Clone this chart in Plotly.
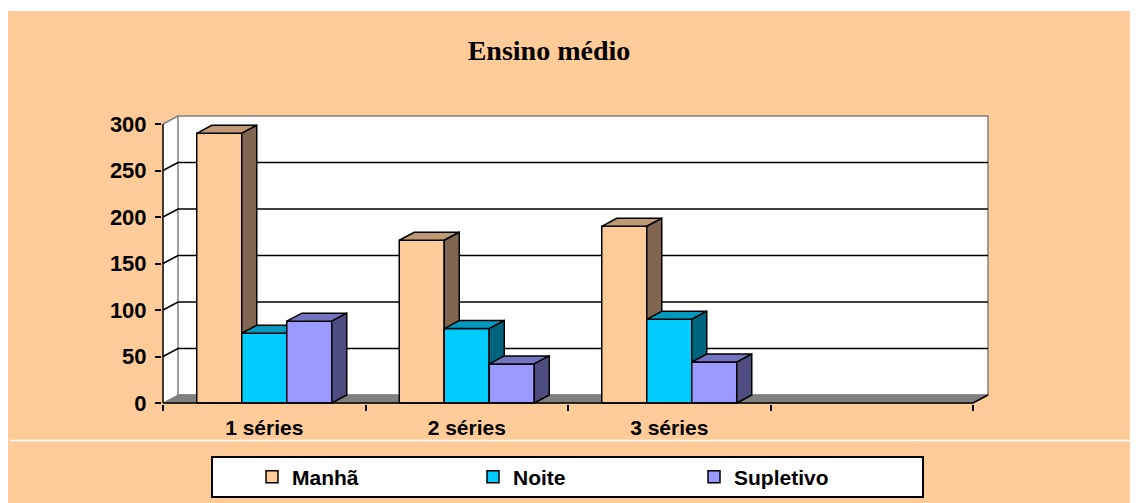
import plotly.graph_objects as go

# ---- data ----
categories = ["1 séries", "2 séries", "3 séries"]
series_names = ["Manhã", "Noite", "Supletivo"]
manha = [290, 175, 190]
noite = [75, 80, 90]
supletivo = [88, 42, 44]
y_ticks = [0, 50, 100, 150, 200, 250, 300]

# ---- style ----
front_colors = ["#FFCC99", "#00CCFF", "#9999FF"]
top_colors = ["#BF9973", "#0099BF", "#7373BF"]
side_colors = ["#806650", "#006680", "#4D4D80"]
PEACH = "#FFCC99"
GRAY = "#808080"

OFF = 8                                   # page body margin of the html page
W, H = 1138, 503
L, R, T, B = 162 - OFF, 989 - OFF, 115 - OFF, 404 - OFF   # plot area in figure pixels
N_SLOTS = 4                               # 3 categories + one empty slot
PXX = (973 - 163) / N_SLOTS              # pixels per category unit
PXY = (403 - 125) / 300                  # pixels per value unit
DX = 15 / PXX                             # depth offset (x units)
DY = 8 / PXY                              # depth offset (y units)
BW = 45 / PXX                             # bar width
YMAX = y_ticks[-1]

x_lo, x_hi = -0.5, N_SLOTS - 0.5
xr = [x_lo - 1 / PXX, x_hi + DX + 1 / PXX]
yr = [-1 / PXY, YMAX + DY + 1 / PXY]

fig = go.Figure()


def poly(xs, ys, fill, line_color="black", lw=1.5):
    fig.add_trace(go.Scatter(
        x=xs + [xs[0]], y=ys + [ys[0]], mode="lines", fill="toself",
        fillcolor=fill, line=dict(color=line_color, width=lw),
        hoverinfo="skip", showlegend=False))


def lines(xs, ys, color, lw=1.5):
    fig.add_trace(go.Scatter(x=xs, y=ys, mode="lines",
                             line=dict(color=color, width=lw),
                             hoverinfo="skip", showlegend=False))


# walls and floor
poly([x_lo, x_lo, x_lo + DX, x_lo + DX], [0, YMAX, YMAX + DY, DY], "white", "white", 0.1)
poly([x_lo + DX, x_hi + DX, x_hi + DX, x_lo + DX], [DY, DY, YMAX + DY, YMAX + DY], "white", GRAY, 1.5)
poly([x_lo, x_hi, x_hi + DX, x_lo + DX], [0, 0, DY, DY], GRAY, GRAY, 1)

# gridlines on back wall + left wall diagonals
gx, gy = [], []
for v in y_ticks[1:-1]:
    gx += [x_lo, x_lo + DX, x_hi + DX, None]
    gy += [v, v + DY, v + DY, None]
lines(gx, gy, "black", 1.5)
lines([x_lo, x_lo + DX], [YMAX, YMAX + DY], GRAY, 1.5)

# 3D bars
vals = [manha, noite, supletivo]
for c in range(len(categories)):
    for i in range(len(series_names)):
        v = vals[i][c]
        x0 = c + (i - 1.5) * BW
        x1 = x0 + BW
        poly([x0, x1, x1, x0], [0, 0, v, v], front_colors[i])
        poly([x0, x1, x1 + DX, x0 + DX], [v, v, v + DY, v + DY], top_colors[i])
        poly([x1, x1 + DX, x1 + DX, x1], [0, DY, v + DY, v], side_colors[i])

# front axis lines
lines([x_lo, x_lo], [0, YMAX], "black", 1.5)
lines([x_lo, x_hi, x_hi + DX], [0, 0, DY], "black", 1.5)

# legend entries
for i, name in enumerate(series_names):
    fig.add_trace(go.Scatter(
        x=[None], y=[None], mode="markers", name=name,
        marker=dict(symbol="square", size=12, color=front_colors[i],
                    line=dict(color="black", width=1.5))))


def px_x(p):  # reference pixel -> paper
    return (p - OFF - L) / (R - L)


def px_y(p):
    return (B - (p - OFF)) / (B - T)


shapes = [
    dict(type="rect", xref="paper", yref="paper", layer="below",
         x0=px_x(6), x1=px_x(W + 20), y0=px_y(W), y1=px_y(11),
         fillcolor=PEACH, line=dict(width=0)),
    dict(type="line", xref="paper", yref="paper", layer="below",
         x0=px_x(10), x1=px_x(W + 20), y0=px_y(440.5), y1=px_y(440.5),
         line=dict(color="white", width=1.5)),
    dict(type="rect", xref="paper", yref="paper", layer="below",
         x0=px_x(212), x1=px_x(923), y0=px_y(497), y1=px_y(457),
         fillcolor="white", line=dict(color="black", width=2)),
]

bold_sans = dict(family="Arial, Liberation Sans, sans-serif", color="black", weight="bold")

fig.update_layout(
    width=W, height=H,
    margin=dict(l=L, r=W - R, t=T, b=H - B, autoexpand=False),
    paper_bgcolor="white", plot_bgcolor="rgba(0,0,0,0)",
    shapes=shapes,
    title=dict(text="<b>Ensino médio</b>", x=(549 - OFF) / W, y=1 - (50 - OFF) / H,
               xanchor="center", yanchor="middle", xref="container", yref="container",
               font=dict(family="Times New Roman, Liberation Serif, serif", size=28, color="black")),
    xaxis=dict(range=xr, tickvals=list(range(len(categories))), ticktext=categories,
               ticks="", showgrid=False, zeroline=False, showline=False,
               tickfont=dict(size=21, **bold_sans), ticklabelstandoff=9,
               minor=dict(tickvals=[x_lo + k for k in range(N_SLOTS + 1)], ticks="outside",
                          ticklen=6, tickcolor="black", tickwidth=1.5, showgrid=False)),
    yaxis=dict(range=yr, tickvals=y_ticks, ticks="outside", ticklen=6,
               tickcolor="black", tickwidth=1.5, showgrid=False, zeroline=False,
               showline=False, tickfont=dict(size=22, **bold_sans), ticklabelstandoff=4),
    showlegend=True,
    legend=dict(orientation="h", x=px_x(252), y=px_y(477), xanchor="left", yanchor="middle",
                bgcolor="rgba(0,0,0,0)", borderwidth=0,
                font=dict(size=21, **bold_sans), entrywidth=176, entrywidthmode="pixels",
                itemclick=False),
)

fig.write_html("out.html")
